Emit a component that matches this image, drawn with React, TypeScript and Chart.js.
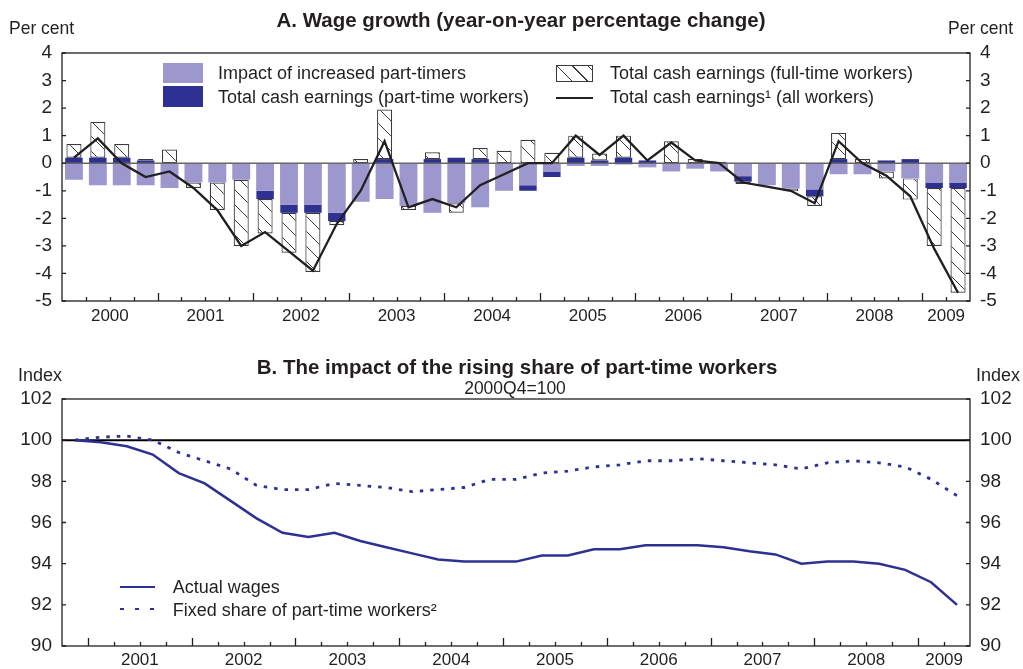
import React, { useEffect, useRef } from 'react';
import { Chart, registerables } from 'chart.js';

Chart.register(...registerables);

const FONT = '"Liberation Sans", Arial, Helvetica, sans-serif';
const INK = '#231F20';
const NAVY = '#2E3192';
const LAVENDER = '#9C98CD';

// ---------- Panel A: quarterly, 2000Q1 - 2009Q2 ----------
const quartersA = [
  '2000Q1', '2000Q2', '2000Q3', '2000Q4', '2001Q1', '2001Q2', '2001Q3', '2001Q4',
  '2002Q1', '2002Q2', '2002Q3', '2002Q4', '2003Q1', '2003Q2', '2003Q3', '2003Q4',
  '2004Q1', '2004Q2', '2004Q3', '2004Q4', '2005Q1', '2005Q2', '2005Q3', '2005Q4',
  '2006Q1', '2006Q2', '2006Q3', '2006Q4', '2007Q1', '2007Q2', '2007Q3', '2007Q4',
  '2008Q1', '2008Q2', '2008Q3', '2008Q4', '2009Q1', '2009Q2',
];
const yearLabelsA = ['2000', '2001', '2002', '2003', '2004', '2005', '2006', '2007', '2008', '2009'];
const yearLabelIndexA = [1, 5, 9, 13, 17, 21, 25, 29, 33, 36];

const partTimerImpact = [
  -0.6, -0.8, -0.8, -0.8, -0.9, -0.7, -0.7, -0.6, -1.0, -1.5,
  -1.5, -1.8, -1.4, -1.3, -1.55, -1.8, -1.45, -1.6, -1.0, -0.8,
  -0.3, -0.1, -0.1, -0.05, -0.15, -0.3, -0.2, -0.3, -0.47, -0.8,
  -0.92, -0.95, -0.4, -0.4, -0.3, -0.55, -0.7, -0.7,
];
const partTimeEarnings = [
  0.2, 0.2, 0.2, 0.1, null, null, null, null, -0.3, -0.3,
  -0.3, -0.3, null, 0.15, null, 0.15, 0.2, 0.15, null, -0.2,
  -0.2, 0.2, 0.1, 0.2, 0.1, null, null, null, -0.2, null,
  null, -0.25, 0.15, null, 0.1, 0.15, -0.2, -0.2,
];
const fullTimeEarnings = [
  0.5, 1.3, 0.5, 0.05, 0.5, -0.2, -1.0, -2.4, -1.25, -1.45,
  -2.15, -0.15, 0.15, 1.8, -0.15, 0.25, -0.35, 0.4, 0.45, 0.85,
  0.38, 0.8, 0.25, 0.8, null, 0.8, 0.15, 0.05, -0.08, null,
  -0.1, -0.35, 0.95, 0.15, -0.25, -0.77, -2.1, -3.8,
];
const allWorkersEarnings = [
  0.2, 0.9, 0.0, -0.5, -0.3, -0.9, -1.7, -3.0, -2.5, -3.2,
  -3.9, -2.2, -1.0, 0.8, -1.6, -1.3, -1.6, -0.8, -0.4, 0.0,
  0.0, 1.0, 0.3, 1.0, 0.1, 0.75, 0.1, 0.0, -0.7, -0.85,
  -1.0, -1.45, 0.8, 0.0, -0.45, -1.2, -3.1, -4.7,
];
const yRangeA = [-5, 4];

// ---------- Panel B: quarterly, 2000Q4 - 2009Q2, 2000Q4 = 100 ----------
const quartersB = [
  '2000Q4', '2001Q1', '2001Q2', '2001Q3', '2001Q4', '2002Q1', '2002Q2', '2002Q3', '2002Q4',
  '2003Q1', '2003Q2', '2003Q3', '2003Q4', '2004Q1', '2004Q2', '2004Q3', '2004Q4',
  '2005Q1', '2005Q2', '2005Q3', '2005Q4', '2006Q1', '2006Q2', '2006Q3', '2006Q4',
  '2007Q1', '2007Q2', '2007Q3', '2007Q4', '2008Q1', '2008Q2', '2008Q3', '2008Q4',
  '2009Q1', '2009Q2',
];
const yearLabelsB = ['2001', '2002', '2003', '2004', '2005', '2006', '2007', '2008', '2009'];
const yearLabelIndexB = [2, 6, 10, 14, 18, 22, 26, 30, 33];

const actualWages = [
  100, 99.9, 99.7, 99.3, 98.4, 97.9, 97.05, 96.2, 95.5, 95.3,
  95.5, 95.1, 94.8, 94.5, 94.2, 94.1, 94.1, 94.1, 94.4, 94.4,
  94.7, 94.7, 94.9, 94.9, 94.9, 94.8, 94.6, 94.45, 94.0, 94.1,
  94.1, 94.0, 93.7, 93.1, 92.0,
];
const fixedShareWages = [
  100, 100.15, 100.2, 100.0, 99.4, 99.0, 98.6, 97.8, 97.6, 97.6,
  97.9, 97.8, 97.7, 97.5, 97.6, 97.7, 98.1, 98.1, 98.4, 98.5,
  98.7, 98.8, 99.0, 99.0, 99.1, 99.0, 98.9, 98.8, 98.6, 98.9,
  99.0, 98.9, 98.7, 98.1, 97.3,
];
const yRangeB = [90, 102];
const baseIndex = 100;

// ---------- helpers ----------
function drawFrame(chart: any, n: number, isMajor: (k: number) => boolean) {
  const { ctx, chartArea: a, scales } = chart;
  const x = scales.x;
  const y = scales.y;
  ctx.save();
  ctx.strokeStyle = INK;
  ctx.lineWidth = 1.3;
  ctx.strokeRect(a.left, a.top, a.right - a.left, a.bottom - a.top);
  ctx.beginPath();
  for (let k = 1; k < n; k++) {
    const px = Math.round((x.getPixelForValue(k - 1) + x.getPixelForValue(k)) / 2) + 0.5;
    const len = isMajor(k) ? 8 : 4;
    ctx.moveTo(px, a.bottom);
    ctx.lineTo(px, a.bottom - len);
  }
  y.ticks.forEach((t: any) => {
    const py = y.getPixelForValue(t.value);
    ctx.moveTo(a.left, py);
    ctx.lineTo(a.left + 4, py);
    ctx.moveTo(a.right, py);
    ctx.lineTo(a.right - 4, py);
  });
  ctx.stroke();
  ctx.restore();
}

function makeHatch(): CanvasPattern | string {
  const s = 15;
  const c = document.createElement('canvas');
  c.width = s;
  c.height = s;
  const g = c.getContext('2d');
  if (!g) return '#fff';
  g.fillStyle = '#fff';
  g.fillRect(0, 0, s, s);
  g.strokeStyle = '#3a3a3a';
  g.lineWidth = 1;
  g.beginPath();
  g.moveTo(-1, -1);
  g.lineTo(s + 1, s + 1);
  g.moveTo(s - 1, -1);
  g.lineTo(s + 1, 1);
  g.moveTo(-1, s - 1);
  g.lineTo(1, s + 1);
  g.stroke();
  return g.createPattern(c, 'repeat') || '#fff';
}

const yAxisBase = (min: number, max: number, step: number, side: 'left' | 'right', width: number) => ({
  position: side,
  min,
  max,
  grid: { display: false, drawTicks: false },
  border: { display: false },
  ticks: { stepSize: step, padding: 10, color: INK, font: { size: 19, family: FONT } },
  afterFit: (s: any) => {
    s.width = width;
  },
});

const T = (props: { x: number; y: number; size: number; bold?: boolean; center?: boolean; children: any }) => (
  <div
    style={{
      position: 'absolute',
      left: props.x,
      top: props.y - 0.49 * props.size,
      fontSize: props.size,
      fontWeight: props.bold ? 700 : 400,
      lineHeight: 1,
      whiteSpace: 'nowrap',
      transform: props.center ? 'translateX(-50%)' : undefined,
    }}
  >
    {props.children}
  </div>
);

export default function App() {
  const refA = useRef<HTMLCanvasElement>(null);
  const refB = useRef<HTMLCanvasElement>(null);

  useEffect(() => {
    Chart.defaults.font.family = FONT;
    Chart.defaults.color = INK;
    const hatch = makeHatch();

    const decorA = {
      id: 'decorA',
      beforeDatasetDraw(chart: any, args: any) {
        if (args.meta.type !== 'line') return;
        const { ctx, chartArea: a, scales } = chart;
        const y0 = scales.y.getPixelForValue(0);
        ctx.save();
        ctx.strokeStyle = '#666';
        ctx.lineWidth = 1.5;
        ctx.beginPath();
        ctx.moveTo(a.left, y0);
        ctx.lineTo(a.right, y0);
        ctx.stroke();
        ctx.restore();
      },
      afterDraw(chart: any) {
        drawFrame(chart, quartersA.length, (k) => k % 4 === 0);
      },
    };

    const chartA = new Chart(refA.current as HTMLCanvasElement, {
      type: 'bar',
      data: {
        labels: quartersA,
        datasets: [
          {
            label: 'Impact of increased part-timers',
            data: partTimerImpact,
            backgroundColor: LAVENDER,
            borderWidth: 0,
            barPercentage: 0.75,
            categoryPercentage: 1,
            order: 1,
          },
          {
            label: 'Total cash earnings (part-time workers)',
            data: partTimeEarnings,
            backgroundColor: NAVY,
            borderWidth: 0,
            barPercentage: 0.73,
            categoryPercentage: 1,
            order: 1,
          },
          {
            label: 'Total cash earnings (full-time workers)',
            data: fullTimeEarnings,
            backgroundColor: hatch as any,
            borderColor: '#3a3a3a',
            borderWidth: 1.2,
            borderSkipped: false,
            barPercentage: 0.63,
            categoryPercentage: 1,
            order: 1,
          },
          {
            type: 'line',
            label: 'Total cash earnings (all workers)',
            data: allWorkersEarnings,
            borderColor: INK,
            borderWidth: 2.3,
            pointRadius: 0,
            fill: false,
            tension: 0,
            order: 0,
          } as any,
        ],
      },
      options: {
        animation: false,
        responsive: false,
        maintainAspectRatio: false,
        layout: { padding: { top: 53, left: 0, right: 0, bottom: 0 } },
        plugins: { legend: { display: false }, tooltip: { enabled: false }, title: { display: false } },
        scales: {
          x: {
            type: 'category',
            stacked: true,
            offset: true,
            grid: { display: false, drawTicks: false },
            border: { display: false },
            ticks: {
              autoSkip: false,
              maxRotation: 0,
              minRotation: 0,
              labelOffset: 12,
              padding: 5,
              color: INK,
              font: { size: 17, family: FONT },
              callback: (_v: any, i: number) => {
                const k = yearLabelIndexA.indexOf(i);
                return k >= 0 ? yearLabelsA[k] : '';
              },
            },
            afterFit: (s: any) => {
              s.height = 34;
            },
          },
          y: { ...yAxisBase(yRangeA[0], yRangeA[1], 1, 'left', 62), stacked: true },
          y2: yAxisBase(yRangeA[0], yRangeA[1], 1, 'right', 53),
        } as any,
      },
      plugins: [decorA],
    });

    const decorB = {
      id: 'decorB',
      beforeDatasetsDraw(chart: any) {
        const { ctx, chartArea: a, scales } = chart;
        const yb = scales.y.getPixelForValue(baseIndex);
        ctx.save();
        ctx.strokeStyle = '#000';
        ctx.lineWidth = 2;
        ctx.beginPath();
        ctx.moveTo(a.left, yb);
        ctx.lineTo(a.right, yb);
        ctx.stroke();
        ctx.restore();
      },
      afterDraw(chart: any) {
        drawFrame(chart, quartersB.length, (k) => (k - 1) % 4 === 0);
      },
    };

    const chartB = new Chart(refB.current as HTMLCanvasElement, {
      type: 'line',
      data: {
        labels: quartersB,
        datasets: [
          {
            label: 'Actual wages',
            data: actualWages,
            borderColor: NAVY,
            borderWidth: 2.5,
            pointRadius: 0,
            tension: 0,
            fill: false,
          },
          {
            label: 'Fixed share of part-time workers²',
            data: fixedShareWages,
            borderColor: NAVY,
            borderWidth: 2.8,
            borderDash: [3.5, 7],
            pointRadius: 0,
            tension: 0,
            fill: false,
          },
        ],
      },
      options: {
        animation: false,
        responsive: false,
        maintainAspectRatio: false,
        layout: { padding: { top: 59, left: 0, right: 0, bottom: 0 } },
        plugins: { legend: { display: false }, tooltip: { enabled: false }, title: { display: false } },
        scales: {
          x: {
            type: 'category',
            offset: true,
            grid: { display: false, drawTicks: false },
            border: { display: false },
            ticks: {
              autoSkip: false,
              maxRotation: 0,
              minRotation: 0,
              labelOffset: 13,
              padding: 4,
              color: INK,
              font: { size: 17, family: FONT },
              callback: (_v: any, i: number) => {
                const k = yearLabelIndexB.indexOf(i);
                return k >= 0 ? yearLabelsB[k] : '';
              },
            },
            afterFit: (s: any) => {
              s.height = 23;
            },
          },
          y: yAxisBase(yRangeB[0], yRangeB[1], 2, 'left', 62),
          y2: yAxisBase(yRangeB[0], yRangeB[1], 2, 'right', 53),
        } as any,
      },
      plugins: [decorB],
    });

    return () => {
      chartA.destroy();
      chartB.destroy();
    };
  }, []);

  const hatchCss = 'repeating-linear-gradient(45deg, #fff 0px, #fff 10px, #3a3a3a 10px, #3a3a3a 11px)';

  return (
    <div
      style={{
        position: 'absolute',
        left: 0,
        top: 0,
        width: 1023,
        height: 669,
        background: '#fff',
        fontFamily: FONT,
        color: INK,
        overflow: 'hidden',
      }}
    >
      <canvas ref={refA} width={1023} height={335} style={{ position: 'absolute', left: 0, top: 0 }} />
      <canvas ref={refB} width={1023} height={329} style={{ position: 'absolute', left: 0, top: 340 }} />

      {/* Panel A texts */}
      <T x={521} y={20.3} size={20.5} bold center>A. Wage growth (year-on-year percentage change)</T>
      <T x={9} y={28.3} size={17.5}>Per cent</T>
      <T x={948} y={28.3} size={17.5}>Per cent</T>

      {/* Panel A legend */}
      <div style={{ position: 'absolute', left: 163, top: 63, width: 40, height: 20, background: LAVENDER }} />
      <div style={{ position: 'absolute', left: 163, top: 86, width: 40, height: 21, background: NAVY }} />
      <div
        style={{
          position: 'absolute',
          left: 556,
          top: 65,
          width: 35,
          height: 15,
          border: '1.2px solid #3a3a3a',
          background: hatchCss,
        }}
      />
      <div style={{ position: 'absolute', left: 556, top: 96.5, width: 37, height: 2.5, background: INK }} />
      <T x={218} y={73.3} size={18}>Impact of increased part-timers</T>
      <T x={218} y={97.3} size={18}>Total cash earnings (part-time workers)</T>
      <T x={610} y={73.3} size={18}>Total cash earnings (full-time workers)</T>
      <T x={610} y={97.3} size={18}>Total cash earnings¹ (all workers)</T>

      {/* Panel B texts */}
      <T x={517} y={367} size={20.5} bold center>B. The impact of the rising share of part-time workers</T>
      <T x={515} y={388.8} size={17.5} center>2000Q4=100</T>
      <T x={18} y={374.5} size={18}>Index</T>
      <T x={976} y={374.5} size={18}>Index</T>

      {/* Panel B legend */}
      <div style={{ position: 'absolute', left: 120, top: 585.5, width: 35, height: 2.5, background: NAVY }} />
      <div
        style={{
          position: 'absolute',
          left: 120,
          top: 607.7,
          width: 36,
          height: 2.6,
          background: `repeating-linear-gradient(to right, ${NAVY} 0px, ${NAVY} 4px, transparent 4px, transparent 15px)`,
        }}
      />
      <T x={172.7} y={586.7} size={18}>Actual wages</T>
      <T x={172.7} y={609.5} size={18}>Fixed share of part-time workers²</T>
    </div>
  );
}
